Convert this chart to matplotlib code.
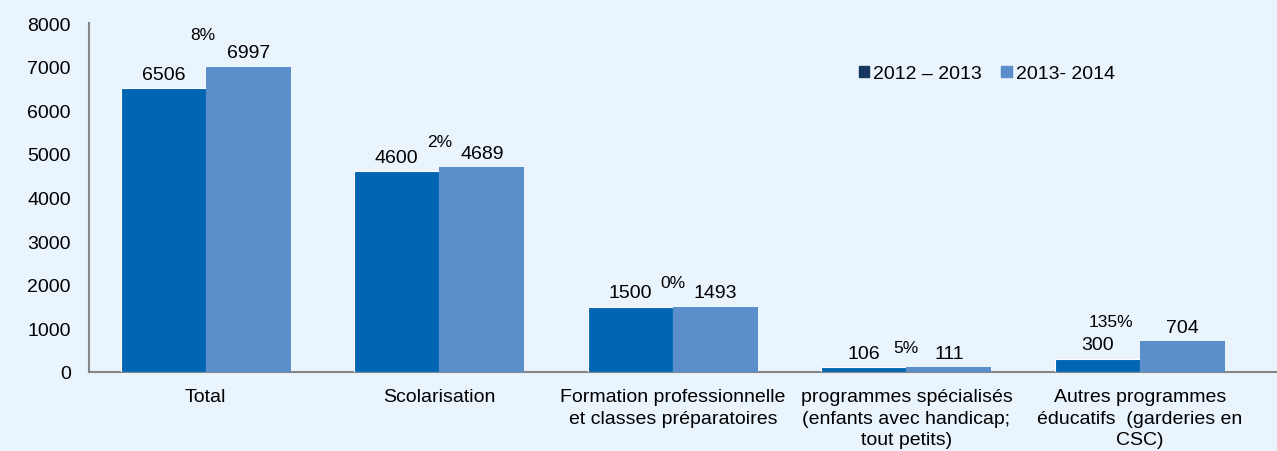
import matplotlib.pyplot as plt
from matplotlib.patches import Patch
import numpy as np

# Data
categories = ['Total', 'Scolarisation',
              'Formation professionnelle\net classes préparatoires',
              'programmes spécialisés\n(enfants avec handicap;\ntout petits)',
              'Autres programmes\néducatifs  (garderies en\nCSC)']
values_2012 = [6506, 4600, 1500, 106, 300]
values_2013 = [6997, 4689, 1493, 111, 704]
pct_labels = ['8%', '2%', '0%', '5%', '135%']
series_names = ['2012 \u2013 2013', '2013- 2014']

# label placement (points, relative to the taller bar of each group)
pct_dx = [-2, 0, 0, 0, -21]
pct_dy = [23, 19, 17, 14.5, 14.5]

BG = '#EAF4FD'
DARK = '#0066B3'
LIGHT = '#5B8FCB'
LEGEND_DARK = '#17375E'

plt.rcParams['font.family'] = ['Liberation Sans', 'DejaVu Sans']

fig = plt.figure(figsize=(12.77, 4.52), dpi=100, facecolor=BG)
ax = fig.add_axes([0.0697, 0.1748, 0.9303, 0.772])
ax.set_facecolor(BG)

x = np.arange(len(categories))
w = 0.364
bars1 = ax.bar(x - w / 2, values_2012, w, color=DARK, edgecolor='white',
               linewidth=0.8, zorder=3)
bars2 = ax.bar(x + w / 2, values_2013, w, color=LIGHT, zorder=3)

# value labels above each bar
for bars, vals in ((bars1, values_2012), (bars2, values_2013)):
    for b, v in zip(bars, vals):
        ax.annotate(str(v), (b.get_x() + b.get_width() / 2, v), xytext=(0, 4),
                    textcoords='offset points', ha='center', va='bottom',
                    fontsize=14)

# growth percentages between the two bars
for i, lab in enumerate(pct_labels):
    top = max(values_2012[i], values_2013[i])
    ax.annotate(lab, (x[i], top), xytext=(pct_dx[i], pct_dy[i]),
                textcoords='offset points', ha='center', va='center',
                fontsize=12.5)

ax.set_xlim(-0.5, 4.587)
ax.set_ylim(0, 8000)
ax.set_yticks(range(0, 8001, 1000))
ax.set_xticks(x)
ax.set_xticklabels(categories, linespacing=1.36)
ax.tick_params(axis='both', length=0, labelsize=14)
ax.tick_params(axis='x', pad=11.5)
ax.tick_params(axis='y', pad=13)

for s in ['top', 'right']:
    ax.spines[s].set_visible(False)
for s in ['left', 'bottom']:
    ax.spines[s].set_color('#868686')
    ax.spines[s].set_linewidth(1.5)

handles = [Patch(color=LEGEND_DARK), Patch(color=LIGHT)]
ax.legend(handles, series_names, loc='center left',
          bbox_to_anchor=(0.633, 0.854), ncol=2, frameon=False,
          fontsize=14, handlelength=0.55, handleheight=0.55,
          handletextpad=0.2, columnspacing=1.0)

fig.savefig('out.png', dpi=100, facecolor=BG)
